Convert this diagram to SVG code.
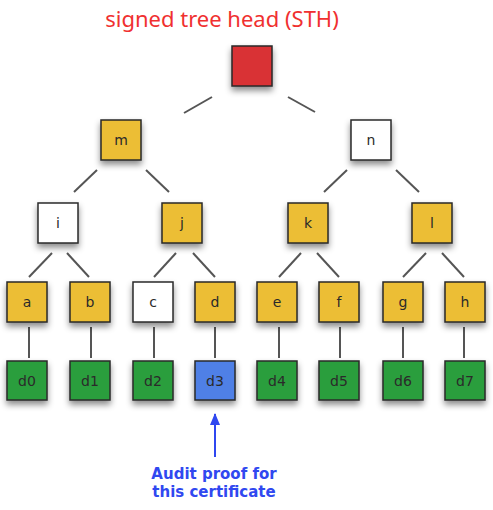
<svg xmlns="http://www.w3.org/2000/svg" width="493" height="510" viewBox="0 0 493 510">
<defs>
<filter id="sh" x="-40%" y="-40%" width="180%" height="200%">
<feDropShadow dx="0" dy="4" stdDeviation="3" flood-color="#000" flood-opacity="0.45"/>
</filter>
<marker id="ah" viewBox="0 0 12 10" refX="11" refY="5" markerWidth="12" markerHeight="10" orient="auto" markerUnits="userSpaceOnUse">
<path d="M0,0 L12,5 L0,10 Z" fill="#2f47f0"/>
</marker>
</defs>
<style>
.b{stroke:#2a2a2a;stroke-width:1.5;filter:url(#sh)}
.y{fill:#ecbe34}.w{fill:#fff}.r{fill:#d93036}.g{fill:#2a9e3c}.bl{fill:#5080e6}
.t{font-family:"DejaVu Sans",sans-serif;font-size:14px;fill:#2a2a2a;text-anchor:middle}
.c line{stroke:#555;stroke-width:2}
.a{font-family:"DejaVu Sans",sans-serif;font-weight:bold;font-size:15px;fill:#3048f0;text-anchor:middle}
</style>
<rect width="493" height="510" fill="#fff"/>
<text x="222" y="27" font-family="Noto Sans, sans-serif" font-size="22" fill="#f03030" text-anchor="middle">signed tree head (STH)</text>
<g class="c" id="connectors">
<line x1="184" y1="113" x2="212" y2="97"/>
<line x1="288" y1="97" x2="315" y2="112"/>
<line x1="97" y1="170" x2="74" y2="192"/>
<line x1="146" y1="170" x2="169" y2="192"/>
<line x1="347" y1="170" x2="324" y2="192"/>
<line x1="396" y1="170" x2="419" y2="192"/>
<line x1="52" y1="253" x2="29" y2="277"/>
<line x1="67" y1="253" x2="89" y2="277"/>
<line x1="176" y1="253" x2="154" y2="277"/>
<line x1="193" y1="253" x2="215" y2="277"/>
<line x1="301" y1="253" x2="279" y2="277"/>
<line x1="317" y1="253" x2="339" y2="277"/>
<line x1="426" y1="253" x2="403" y2="277"/>
<line x1="442" y1="253" x2="464" y2="277"/>
<line x1="29" y1="327" x2="29" y2="358"/>
<line x1="91" y1="327" x2="91" y2="358"/>
<line x1="154" y1="327" x2="154" y2="358"/>
<line x1="215" y1="327" x2="215" y2="358"/>
<line x1="279" y1="327" x2="279" y2="358"/>
<line x1="340" y1="327" x2="340" y2="358"/>
<line x1="403" y1="327" x2="403" y2="358"/>
<line x1="464" y1="327" x2="464" y2="358"/>
</g>
<g id="root"><rect class="b r" x="232" y="46" width="40" height="40"/></g>
<g id="m"><rect class="b y" x="101" y="120" width="40" height="40"/><text class="t" x="121" y="145">m</text></g>
<g id="n"><rect class="b w" x="351" y="120" width="40" height="40"/><text class="t" x="371" y="145">n</text></g>
<g id="i"><rect class="b w" x="38" y="203" width="40" height="40"/><text class="t" x="58" y="228">i</text></g>
<g id="j"><rect class="b y" x="162" y="203" width="40" height="40"/><text class="t" x="182" y="228">j</text></g>
<g id="k"><rect class="b y" x="288" y="203" width="40" height="40"/><text class="t" x="308" y="228">k</text></g>
<g id="l"><rect class="b y" x="412" y="203" width="40" height="40"/><text class="t" x="432" y="228">l</text></g>
<g id="a"><rect class="b y" x="7" y="282" width="40" height="40"/><text class="t" x="27" y="307">a</text></g>
<g id="b"><rect class="b y" x="70" y="282" width="40" height="40"/><text class="t" x="90" y="307">b</text></g>
<g id="c"><rect class="b w" x="133" y="282" width="40" height="40"/><text class="t" x="153" y="307">c</text></g>
<g id="d"><rect class="b y" x="195" y="282" width="40" height="40"/><text class="t" x="215" y="307">d</text></g>
<g id="e"><rect class="b y" x="257" y="282" width="40" height="40"/><text class="t" x="277" y="307">e</text></g>
<g id="f"><rect class="b y" x="319" y="282" width="40" height="40"/><text class="t" x="339" y="307">f</text></g>
<g id="g"><rect class="b y" x="383" y="282" width="40" height="40"/><text class="t" x="403" y="307">g</text></g>
<g id="h"><rect class="b y" x="445" y="282" width="40" height="40"/><text class="t" x="465" y="307">h</text></g>
<g id="d0"><rect class="b g" x="7" y="361" width="40" height="39"/><text class="t" x="27" y="386">d0</text></g>
<g id="d1"><rect class="b g" x="70" y="361" width="40" height="39"/><text class="t" x="90" y="386">d1</text></g>
<g id="d2"><rect class="b g" x="133" y="361" width="40" height="39"/><text class="t" x="153" y="386">d2</text></g>
<g id="d3"><rect class="b bl" x="195" y="361" width="40" height="39"/><text class="t" x="215" y="386">d3</text></g>
<g id="d4"><rect class="b g" x="257" y="361" width="40" height="39"/><text class="t" x="277" y="386">d4</text></g>
<g id="d5"><rect class="b g" x="319" y="361" width="40" height="39"/><text class="t" x="339" y="386">d5</text></g>
<g id="d6"><rect class="b g" x="383" y="361" width="40" height="39"/><text class="t" x="403" y="386">d6</text></g>
<g id="d7"><rect class="b g" x="445" y="361" width="40" height="39"/><text class="t" x="465" y="386">d7</text></g>
<g id="annotation">
<line x1="215" y1="457" x2="215" y2="414" stroke="#2f47f0" stroke-width="2" marker-end="url(#ah)"/>
<text class="a" x="214" y="479">Audit proof for</text>
<text class="a" x="214" y="497">this certificate</text>
</g>
</svg>
